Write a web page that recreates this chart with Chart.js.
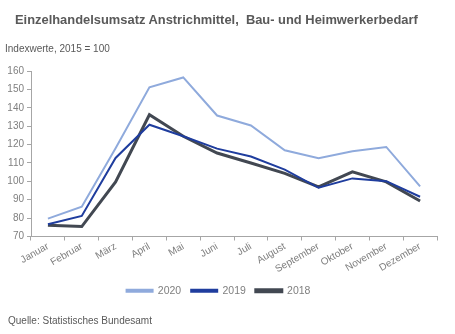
<!DOCTYPE html>
<html><head><meta charset="utf-8">
<script src="https://cdn.jsdelivr.net/npm/chart.js@4"></script>
<style>
html,body{margin:0;padding:0;background:#fff;}
#wrap{position:relative;width:455px;height:334px;font-family:"Liberation Sans",Arial,sans-serif;}
canvas{position:absolute;left:0;top:0;}
.t{position:absolute;white-space:nowrap;color:#595959;}
</style></head><body>
<div id="wrap">
<canvas id="c" width="455" height="334"></canvas>
<div class="t" style="left:15px;top:12px;font-size:12.9px;font-weight:bold;">Einzelhandelsumsatz Anstrichmittel,&nbsp; Bau- und Heimwerkerbedarf</div>
<div class="t" style="left:5px;top:43px;font-size:10px;">Indexwerte, 2015 = 100</div>
<div class="t" style="left:8px;top:315px;font-size:10px;">Quelle: Statistisches Bundesamt</div>
</div>
<script>
const categories = ["Januar","Februar","März","April","Mai","Juni","Juli","August","September","Oktober","November","Dezember"];
const values2020 = [79.7, 86.2, 118, 151.1, 156.5, 135.8, 130.4, 116.9, 112.6, 116.3, 118.7, 97.3];
const values2019 = [76.7, 81.2, 112.7, 130.8, 124.5, 117.8, 113.5, 106.4, 96.5, 101.6, 100.1, 91.6];
const values2018 = [76.1, 75.4, 99.7, 136.2, 124.5, 115.4, 110.0, 104.3, 97.0, 105.2, 99.7, 89.3];
const yTicks = [70, 80, 90, 100, 110, 120, 130, 140, 150, 160];

const grey = '#7f7f7f';
new Chart(document.getElementById('c'), {
  type: 'line',
  data: {
    labels: categories,
    datasets: [
      {label: '2020', data: values2020, borderColor: '#8faadc', backgroundColor: '#8faadc', borderWidth: 2, pointRadius: 0, tension: 0},
      {label: '2019', data: values2019, borderColor: '#1f3d9e', backgroundColor: '#1f3d9e', borderWidth: 2, pointRadius: 0, tension: 0},
      {label: '2018', data: values2018, borderColor: '#424852', backgroundColor: '#424852', borderWidth: 3, pointRadius: 0, tension: 0}
    ]
  },
  options: {
    responsive: false,
    animation: false,
    layout: {padding: {top: 71, left: 0, right: 18, bottom: 28}},
    plugins: {
      legend: {
        position: 'bottom',
        labels: {boxWidth: 26, boxHeight: 2, color: grey, font: {family: 'Liberation Sans', size: 10.5}, padding: 10}
      },
      tooltip: {enabled: false}
    },
    scales: {
      x: {
        offset: true,
        grid: {display: true, drawOnChartArea: false, drawTicks: true, tickLength: 4, offset: true, color: '#a6a6a6'},
        border: {color: '#a6a6a6', width: 1},
        ticks: {color: grey, font: {family: 'Liberation Sans', size: 10}, minRotation: 30, maxRotation: 30, autoSkip: false, padding: 0},
        afterFit: s => { s.height = 39; }
      },
      y: {
        min: 70, max: 160,
        afterBuildTicks: s => { s.ticks = yTicks.map(v => ({value: v})); },
        grid: {display: true, drawOnChartArea: false, drawTicks: true, tickLength: 4, color: '#a6a6a6'},
        border: {color: '#a6a6a6', width: 1},
        ticks: {color: grey, font: {family: 'Liberation Sans', size: 10}, padding: 3},
        afterFit: s => { s.width = 31; }
      }
    }
  }
});
</script>
</body></html>
